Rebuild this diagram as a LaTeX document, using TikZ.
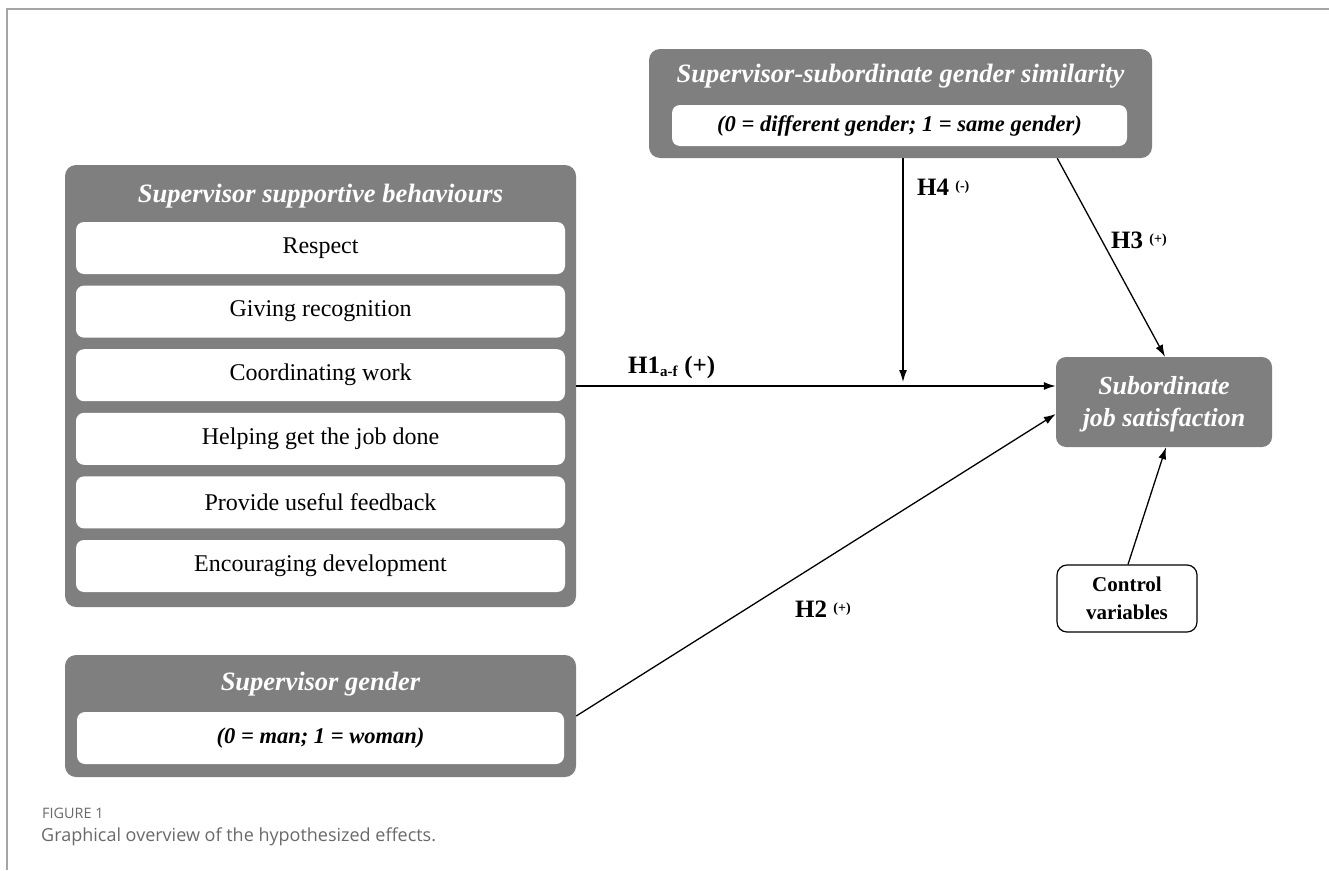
\documentclass[tikz,border=0pt]{standalone}
\usepackage{fontspec}
\setmainfont{Liberation Serif}
\newfontfamily\capfont{Open Sans}
\usetikzlibrary{arrows.meta,calc}
\definecolor{boxgray}{RGB}{127,127,127}
\definecolor{framegray}{RGB}{165,165,165}
\definecolor{capgray}{RGB}{105,105,105}
\tikzset{
  outer/.style={fill=boxgray, rounded corners=11pt, inner sep=0pt},
  inner/.style={fill=white, rounded corners=8pt, inner sep=0pt},
  boxtitle/.style={text=white, inner sep=0pt, font=\bfseries\itshape\fontsize{26.5}{30}\selectfont},
  item/.style={inner sep=0pt, font=\fontsize{24}{28}\selectfont},
  initem/.style={inner sep=0pt, font=\bfseries\itshape\fontsize{22.5}{26}\selectfont},
  hlab/.style={inner sep=0pt, anchor=west, font=\bfseries\fontsize{25}{29}\selectfont},
  arr/.style={-{Latex[length=12pt,width=8pt]}, line width=1.3pt},
}
\newcommand{\sm}[1]{\raisebox{5pt}{\fontsize{14}{16}\selectfont #1}}
\begin{document}
\begin{tikzpicture}[x=1pt,y=-1pt]
\useasboundingbox (0,0) rectangle (1329,870);
% frame
\draw[framegray, line width=2pt] (7,870) -- (7,9) -- (1329,9);

% Supervisor supportive behaviours
\node[outer, minimum width=511pt, minimum height=442pt] (supp) at (320.5,386) {};
\node[boxtitle] (supptitle) at (320.5,196) {Supervisor supportive behaviours};
\node[inner, minimum width=489pt, minimum height=52pt] (i1) at (320.5,248) {};
\node[item] at (i1) {Respect};
\node[inner, minimum width=489pt, minimum height=52pt] (i2) at (320.5,311.6) {};
\node[item] at (i2) {Giving recognition};
\node[inner, minimum width=489pt, minimum height=52pt] (i3) at (320.5,375.2) {};
\node[item] at (i3) {Coordinating work};
\node[inner, minimum width=489pt, minimum height=52pt] (i4) at (320.5,438.8) {};
\node[item] at (i4) {Helping get the job done};
\node[inner, minimum width=489pt, minimum height=52pt] (i5) at (320.5,502.4) {};
\node[item] at (i5) {Provide useful feedback};
\node[inner, minimum width=489pt, minimum height=52pt] (i6) at (320.5,566) {};
\node[item] at (i6) {Encouraging development};

% Supervisor gender
\node[outer, minimum width=511pt, minimum height=122pt] (gend) at (320.5,716) {};
\node[boxtitle] (gendtitle) at (320.5,684) {Supervisor gender};
\node[inner, minimum width=487pt, minimum height=52pt] (gin) at (320.5,738) {};
\node[initem] at (gin) {(0 = man; 1 = woman)};

% Similarity
\node[outer, minimum width=503pt, minimum height=109pt] (sim) at (900.5,103.5) {};
\node[boxtitle] (simtitle) at (900.5,76) {Supervisor-subordinate gender similarity};
\node[inner, minimum width=455pt, minimum height=41pt] (sin) at (899.5,125.5) {};
\node[initem] at (sin) {(0 = different gender; 1 = same gender)};

% Subordinate job satisfaction
\node[outer, rounded corners=10pt, minimum width=216pt, minimum height=90pt] (sub) at (1164,402) {};
\node[text=white, inner sep=0pt, align=center, font=\bfseries\itshape\fontsize{26}{32}\selectfont] at ($(sub)+(0,2)$) {Subordinate\\job satisfaction};

% Control variables
\node[draw=black, line width=1.2pt, rounded corners=10pt, minimum width=140pt, minimum height=67pt, inner sep=0pt, align=center, font=\bfseries\fontsize{21}{28}\selectfont] (ctrl) at (1127,598.5) {Control\\variables};

% connectors
\coordinate (h4end) at (903,382);
\draw[arr] (supp.east) -- (supp.east -| sub.west);
\draw[arr] (sim.south -| h4end) -- (h4end);
\draw[arr] ($(sim.south east)+(-95,0)$) -- ($(sub.north)+(1,0)$);
\draw[arr] (gend.east) -- ($(sub.west)+(0,12)$);
\draw[arr] ($(ctrl.north)+(1,0)$) -- ($(sub.south)+(2,0)$);

% labels
\node[hlab] (l1) at (628,367) {H1$_{\textbf{\fontsize{15}{17}\selectfont a-f}}$ (+)};
\node[hlab] (l4) at (917,187) {H4 \sm{(-)}};
\node[hlab] (l3) at (1111,240) {H3 \sm{(+)}};
\node[hlab] (l2) at (795,609) {H2 \sm{(+)}};

% caption
\node[anchor=west, inner sep=0pt, text=capgray, font=\capfont\fontsize{14.4}{16}\selectfont] (fig) at (42,813) {FIGURE 1};
\node[anchor=west, inner sep=0pt, text=capgray, font=\capfont\fontsize{18}{21}\selectfont] (cap) at (41,837) {Graphical overview of the hypothesized effects.};
\end{tikzpicture}
\end{document}
